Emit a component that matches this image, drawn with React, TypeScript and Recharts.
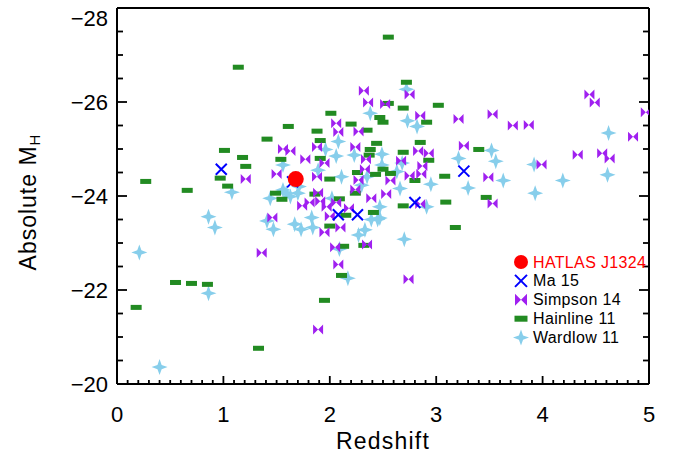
import React from "react";
import { ScatterChart, Scatter, XAxis, YAxis, Legend } from "recharts";

// redshift z, absolute H-band magnitude M_H
const HATLAS: [number, number][] = [[1.68, -24.36]];

const MA15: [number, number][] = [
  [0.98, -24.57], [1.65, -24.3], [2.08, -23.6], [2.26, -23.6], [2.8, -23.86], [3.26, -24.53],
];

const SIMPSON14: [number, number][] = [
  [2.32, -26.24], [2.36, -25.99], [2.52, -25.96], [2.75, -26.16], [4.44, -26.16], [4.49, -25.99],
  [4.97, -25.78], [2.85, -25.71], [3.21, -25.64], [3.53, -25.74], [3.72, -25.5], [3.87, -25.51],
  [2.06, -25.55], [2.08, -25.36], [2.27, -25.37], [4.85, -25.26], [3.26, -25.07], [1.56, -25.0],
  [1.63, -24.96], [1.88, -25.04], [2.24, -25.04], [2.83, -24.96], [2.93, -24.91], [1.77, -24.78],
  [2.34, -24.78], [2.67, -24.75], [1.95, -24.7], [3.99, -24.67], [2.87, -24.64], [2.33, -24.57],
  [1.5, -24.47], [2.86, -24.47], [2.75, -24.43], [1.88, -24.41], [3.49, -24.4], [1.21, -24.36],
  [2.27, -24.34], [2.57, -24.33], [2.24, -24.14], [1.89, -24.07], [2.53, -24.04], [4.33, -24.88],
  [4.56, -24.91], [4.63, -24.8], [2.39, -23.95], [1.74, -23.79], [1.81, -23.86], [1.91, -23.89],
  [1.97, -23.77], [2.06, -23.86], [2.18, -23.74], [3.53, -23.84], [2.85, -23.83], [2.0, -23.57],
  [1.46, -23.54], [1.95, -23.23], [2.1, -23.33], [2.05, -22.91], [2.35, -22.97], [1.36, -22.79],
  [2.08, -22.54], [2.74, -22.23], [1.89, -21.16],
];

const HAINLINE11: [number, number][] = [
  [2.55, -27.38], [1.14, -26.74], [2.72, -26.42], [2.01, -25.76], [2.55, -25.97], [3.02, -25.93],
  [2.69, -25.87], [2.47, -25.67], [2.5, -25.57], [2.2, -25.53], [2.91, -25.57], [1.61, -25.48],
  [1.88, -25.38], [2.35, -25.4], [1.41, -25.21], [1.91, -25.18], [2.44, -25.12], [2.85, -25.14],
  [2.38, -24.99], [2.37, -24.87], [1.01, -24.97], [3.4, -24.99], [2.69, -24.93], [1.18, -24.82],
  [1.54, -24.78], [1.91, -24.8], [2.93, -24.76], [1.21, -24.63], [2.26, -24.5], [2.43, -24.46],
  [2.5, -24.57], [2.57, -24.48], [3.08, -24.42], [0.97, -24.38], [2.0, -24.36], [2.8, -24.33],
  [0.27, -24.31], [1.04, -24.21], [0.66, -24.12], [1.49, -24.06], [1.86, -24.04], [2.24, -24.06],
  [1.55, -23.93], [2.09, -23.94], [3.47, -23.97], [2.69, -23.79], [3.09, -23.87], [2.41, -23.65],
  [2.15, -23.59], [2.0, -23.36], [3.18, -23.33], [2.13, -22.93], [2.32, -22.95], [2.11, -22.31],
  [0.55, -22.16], [0.7, -22.14], [0.85, -22.12], [1.95, -21.78], [0.18, -21.63], [1.33, -20.76],
];

const WARDLOW11: [number, number][] = [
  [2.72, -26.27], [2.38, -25.76], [2.73, -25.6], [2.82, -25.48], [4.62, -25.34], [2.08, -25.16],
  [1.96, -24.99], [3.52, -24.97], [2.49, -24.89], [2.23, -24.87], [2.06, -24.85], [3.21, -24.8],
  [3.56, -24.74], [2.68, -24.7], [1.56, -24.66], [2.49, -24.66], [3.92, -24.67], [1.89, -24.55],
  [2.63, -24.52], [4.61, -24.45], [2.11, -24.41], [2.35, -24.41], [3.63, -24.33], [4.19, -24.33],
  [2.95, -24.25], [2.3, -24.23], [1.71, -24.2], [3.3, -24.17], [2.66, -24.16], [1.56, -24.13],
  [1.08, -24.08], [1.59, -24.06], [1.7, -24.06], [3.93, -24.06], [1.63, -23.99], [2.02, -23.95],
  [1.44, -23.95], [2.47, -23.77], [2.91, -23.77], [0.86, -23.56], [2.47, -23.53], [2.39, -23.5],
  [2.45, -23.5], [1.83, -23.54], [1.41, -23.47], [1.67, -23.4], [0.92, -23.33], [1.84, -23.33],
  [1.47, -23.29], [1.73, -23.29], [2.33, -23.28], [2.27, -23.17], [2.7, -23.08], [2.09, -22.87],
  [0.21, -22.8], [2.17, -22.25], [0.86, -21.93], [0.4, -20.36],
];

const X_MAJOR = [0, 1, 2, 3, 4, 5];
const Y_MAJOR = [-28, -26, -24, -22, -20];
const X_TICKS = Array.from({ length: 51 }, (_, i) => i / 10);
const Y_TICKS = Array.from({ length: 17 }, (_, i) => -28 + i / 2);

const LEGEND_NAMES = ["HATLAS J1324", "Ma 15", "Simpson 14", "Hainline 11", "Wardlow 11"];

const RED = "#ff0000";
const BLUE = "#0000ff";
const PURPLE = "#a020f0";
const GREEN = "#228b22";
const SKY = "#87ceeb";
const FONT = "'Liberation Sans', Arial, sans-serif";

const toPts = (arr: [number, number][]) => arr.map(([z, M]) => ({ z, M }));

// marker glyphs
const Dot = ({ cx, cy, r = 8 }: any) => <circle cx={cx} cy={cy} r={r} fill={RED} />;
const Cross = ({ cx, cy, s = 5.5 }: any) => (
  <path
    d={`M${cx - s},${cy - s}L${cx + s},${cy + s}M${cx - s},${cy + s}L${cx + s},${cy - s}`}
    stroke={BLUE}
    strokeWidth={2}
    fill="none"
  />
);
const Bowtie = ({ cx, cy, w = 5, h = 5 }: any) => (
  <path
    d={`M${cx - w},${cy - h}L${cx},${cy}L${cx - w},${cy + h}Z M${cx + w},${cy - h}L${cx},${cy}L${cx + w},${cy + h}Z`}
    fill={PURPLE}
  />
);
const Bar = ({ cx, cy, w = 11, h = 5 }: any) => (
  <rect x={cx - w / 2} y={cy - h / 2} width={w} height={h} fill={GREEN} />
);
const Star = ({ cx, cy, r = 8 }: any) => {
  const k = r * 0.26;
  const d = `M${cx},${cy - r}L${cx + k},${cy - k}L${cx + r},${cy}L${cx + k},${cy + k}L${cx},${cy + r}L${cx - k},${cy + k}L${cx - r},${cy}L${cx - k},${cy - k}Z`;
  return <path d={d} fill={SKY} />;
};

const tickText = { fontFamily: FONT, fontSize: 22, fill: "#000" };

function BottomTick({ x, y, payload }: any) {
  const major = X_MAJOR.includes(payload.value);
  return (
    <g>
      <line x1={x} x2={x} y1={y} y2={y - (major ? 8 : 4)} stroke="#000" strokeWidth={1.8} />
      {major && (
        <text x={x} y={y + 30} textAnchor="middle" dominantBaseline="central" {...tickText}>
          {payload.value}
        </text>
      )}
    </g>
  );
}

function TopTick({ x, y, payload }: any) {
  const major = X_MAJOR.includes(payload.value);
  return <line x1={x} x2={x} y1={y} y2={y + (major ? 8 : 4)} stroke="#000" strokeWidth={1.8} />;
}

function LeftTick({ x, y, payload }: any) {
  const major = Y_MAJOR.includes(payload.value);
  const ly = payload.value === -28 ? y + 10 : y;
  return (
    <g>
      <line x1={x} x2={x + (major ? 10 : 6)} y1={y} y2={y} stroke="#000" strokeWidth={1.8} />
      {major && (
        <text x={x - 9} y={ly} textAnchor="end" dominantBaseline="central" {...tickText}>
          {"\u2212" + Math.abs(payload.value)}
        </text>
      )}
    </g>
  );
}

function RightTick({ x, y, payload }: any) {
  const major = Y_MAJOR.includes(payload.value);
  return <line x1={x} x2={x - (major ? 10 : 6)} y1={y} y2={y} stroke="#000" strokeWidth={1.8} />;
}

function XLabel({ viewBox }: any) {
  return (
    <text
      x={viewBox.x + viewBox.width / 2}
      y={viewBox.y + 57}
      textAnchor="middle"
      dominantBaseline="central"
      fontFamily={FONT}
      fontSize={23}
      letterSpacing={1.2}
    >
      Redshift
    </text>
  );
}

function YLabel({ viewBox }: any) {
  const cx = 28;
  const cy = viewBox.y + viewBox.height / 2 + 6;
  return (
    <text
      x={cx}
      y={cy}
      transform={`rotate(-90 ${cx} ${cy})`}
      textAnchor="middle"
      dominantBaseline="central"
      fontFamily={FONT}
      fontSize={23}
      letterSpacing={1}
    >
      Absolute M
      <tspan fontSize={15} dy={6}>H</tspan>
    </text>
  );
}

function LegendBox() {
  const icons = [
    (cx: number, cy: number) => <Dot cx={cx} cy={cy} r={7} />,
    (cx: number, cy: number) => <Cross cx={cx} cy={cy} s={6} />,
    (cx: number, cy: number) => <Bowtie cx={cx} cy={cy} w={6} h={6} />,
    (cx: number, cy: number) => <Bar cx={cx} cy={cy} w={13} h={6} />,
    (cx: number, cy: number) => <Star cx={cx} cy={cy} r={8} />,
  ];
  return (
    <svg width={150} height={100} style={{ display: "block" }}>
      {LEGEND_NAMES.map((name, i) => {
        const cy = 10 + i * 18.9;
        return (
          <g key={name}>
            {icons[i](10, cy)}
            <text
              x={22}
              y={cy}
              dominantBaseline="central"
              fontFamily={FONT}
              fontSize={16}
              letterSpacing={0.35}
              fill={i === 0 ? RED : "#000"}
            >
              {name}
            </text>
          </g>
        );
      })}
    </svg>
  );
}

const frame = { stroke: "#000", strokeWidth: 2 };

export default function App() {
  return (
    <div style={{ position: "absolute", left: 0, top: 0, background: "#fff" }}>
      <ScatterChart width={673} height={460} margin={{ top: 7, right: 23, bottom: 0, left: 0 }}>
        <XAxis
          xAxisId="bottom"
          type="number"
          dataKey="z"
          domain={[0, 5]}
          allowDataOverflow
          ticks={X_TICKS}
          interval={0}
          height={76}
          tickSize={0}
          tickMargin={0}
          tickLine={false}
          axisLine={frame}
          tick={<BottomTick />}
          label={<XLabel />}
        />
        <XAxis
          xAxisId="top"
          orientation="top"
          type="number"
          domain={[0, 5]}
          allowDataOverflow
          ticks={X_TICKS}
          interval={0}
          height={1}
          tickSize={0}
          tickMargin={0}
          tickLine={false}
          axisLine={frame}
          tick={<TopTick />}
        />
        <YAxis
          yAxisId="left"
          type="number"
          dataKey="M"
          domain={[-28, -20]}
          reversed
          allowDataOverflow
          ticks={Y_TICKS}
          interval={0}
          width={117}
          tickSize={0}
          tickMargin={0}
          tickLine={false}
          axisLine={frame}
          tick={<LeftTick />}
          label={<YLabel />}
        />
        <YAxis
          yAxisId="right"
          orientation="right"
          type="number"
          domain={[-28, -20]}
          reversed
          allowDataOverflow
          ticks={Y_TICKS}
          interval={0}
          width={1}
          tickSize={0}
          tickMargin={0}
          tickLine={false}
          axisLine={frame}
          tick={<RightTick />}
        />
        <Legend
          layout="horizontal"
          verticalAlign="middle"
          align="center"
          wrapperStyle={{ left: 511, top: 252, width: 150, height: 100 }}
          content={() => <LegendBox />}
        />
        <Scatter
          name="Wardlow 11"
          data={toPts(WARDLOW11)}
          xAxisId="bottom"
          yAxisId="left"
          isAnimationActive={false}
          shape={(p: any) => <Star cx={p.cx} cy={p.cy} />}
        />
        <Scatter
          name="Hainline 11"
          data={toPts(HAINLINE11)}
          xAxisId="bottom"
          yAxisId="left"
          isAnimationActive={false}
          shape={(p: any) => <Bar cx={p.cx} cy={p.cy} />}
        />
        <Scatter
          name="Simpson 14"
          data={toPts(SIMPSON14)}
          xAxisId="bottom"
          yAxisId="left"
          isAnimationActive={false}
          shape={(p: any) => <Bowtie cx={p.cx} cy={p.cy} />}
        />
        <Scatter
          name="Ma 15"
          data={toPts(MA15)}
          xAxisId="bottom"
          yAxisId="left"
          isAnimationActive={false}
          shape={(p: any) => <Cross cx={p.cx} cy={p.cy} />}
        />
        <Scatter
          name="HATLAS J1324"
          data={toPts(HATLAS)}
          xAxisId="bottom"
          yAxisId="left"
          isAnimationActive={false}
          shape={(p: any) => <Dot cx={p.cx} cy={p.cy} />}
        />
      </ScatterChart>
    </div>
  );
}
